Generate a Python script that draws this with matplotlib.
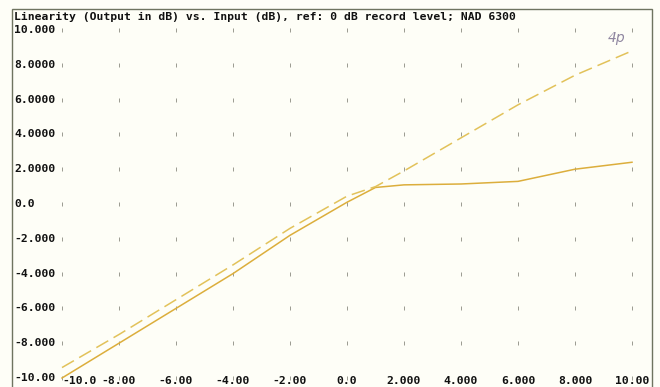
import numpy as np
import matplotlib
matplotlib.use("Agg")
import matplotlib.pyplot as plt
import matplotlib.transforms as mtransforms
from matplotlib.patches import Rectangle

# input level (dB)
x_in = [-10, -8, -6, -4, -2, 0, 1, 2, 4, 6, 8, 10]
# straight trace (dashed)
y_lin = [-9.4, -7.5, -5.5, -3.5, -1.4, 0.45, 1.0, 1.9, 3.8, 5.7, 7.4, 8.8]
# compressed trace (knee near +1 dB)
y_knee = [-10.0, -8.0, -6.0, -4.0, -1.8, 0.1, 0.95, 1.1, 1.15, 1.3, 2.0, 2.4]

x_ticks = [-10, -8, -6, -4, -2, 0, 2, 4, 6, 8, 10]
x_labels = ["-10.0", "-8.00", "-6.00", "-4.00", "-2.00", "0.0",
            "2.000", "4.000", "6.000", "8.000", "10.00"]
y_ticks = [10, 8, 6, 4, 2, 0, -2, -4, -6, -8, -10]
y_labels = ["10.000", "8.0000", "6.0000", "4.0000", "2.0000", "0.0",
            "-2.000", "-4.000", "-6.000", "-8.000", "-10.00"]

title = "Linearity (Output in dB) vs. Input (dB), ref: 0 dB record level; NAD 6300"

W, H = 660, 387
bg = "#fefef7"
fig = plt.figure(figsize=(W / 100, H / 100), dpi=100, facecolor=bg)

# plot area in pixels: x -10..10 -> 62..632, y 10..-10 -> 30..378
ax = fig.add_axes([62 / W, 1 - 378 / H, 570 / W, 348 / H])
ax.set_facecolor("none")
ax.set_xlim(-10, 10)
ax.set_ylim(-10, 10)
ax.axis("off")

# outer frame
fig.patches.append(Rectangle((12 / W, -0.02), 640 / W, 1 - 9 / H + 0.02,
                             transform=fig.transFigure, fill=False,
                             edgecolor="#6f7460", linewidth=1.0))

# grid dots (faint, like the scan)
gx, gy = np.meshgrid(x_ticks, y_ticks)
ax.plot(gx.ravel(), gy.ravel(), linestyle="none", marker="|", markersize=2.2,
        color="#9a9a90", markeredgewidth=0.7, clip_on=False)

# traces
ax.plot(x_in, y_knee, color="#dcae3c", linewidth=1.1, clip_on=False)
ax.plot(x_in, y_lin, color="#e2c25a", linewidth=1.1, dashes=(9, 4), clip_on=False)

mono = dict(family="DejaVu Sans Mono", fontweight="bold", fontsize=8.2, color="#111111")

fig.text(14 / W, 1 - 17 / H, title, ha="left", va="center", **mono)

# y labels, left edge of frame
ty = mtransforms.blended_transform_factory(fig.transFigure, ax.transData)
for v, lab in zip(y_ticks, y_labels):
    ax.text(14 / W, v, lab, transform=ty, ha="left", va="center", **mono)

# x labels along the bottom
tx = mtransforms.blended_transform_factory(ax.transData, fig.transFigure)
for i, (v, lab) in enumerate(zip(x_ticks, x_labels)):
    ax.text(v, 1 - 381 / H, lab, transform=tx,
            ha="left" if i == 0 else "center", va="center", **mono)

# handwritten note
fig.text(617 / W, 1 - 38 / H, "4p", ha="center", va="center", fontsize=10,
         fontstyle="italic", color="#8f86a0", family="DejaVu Sans")

fig.savefig("out.png", dpi=100, facecolor=bg)
